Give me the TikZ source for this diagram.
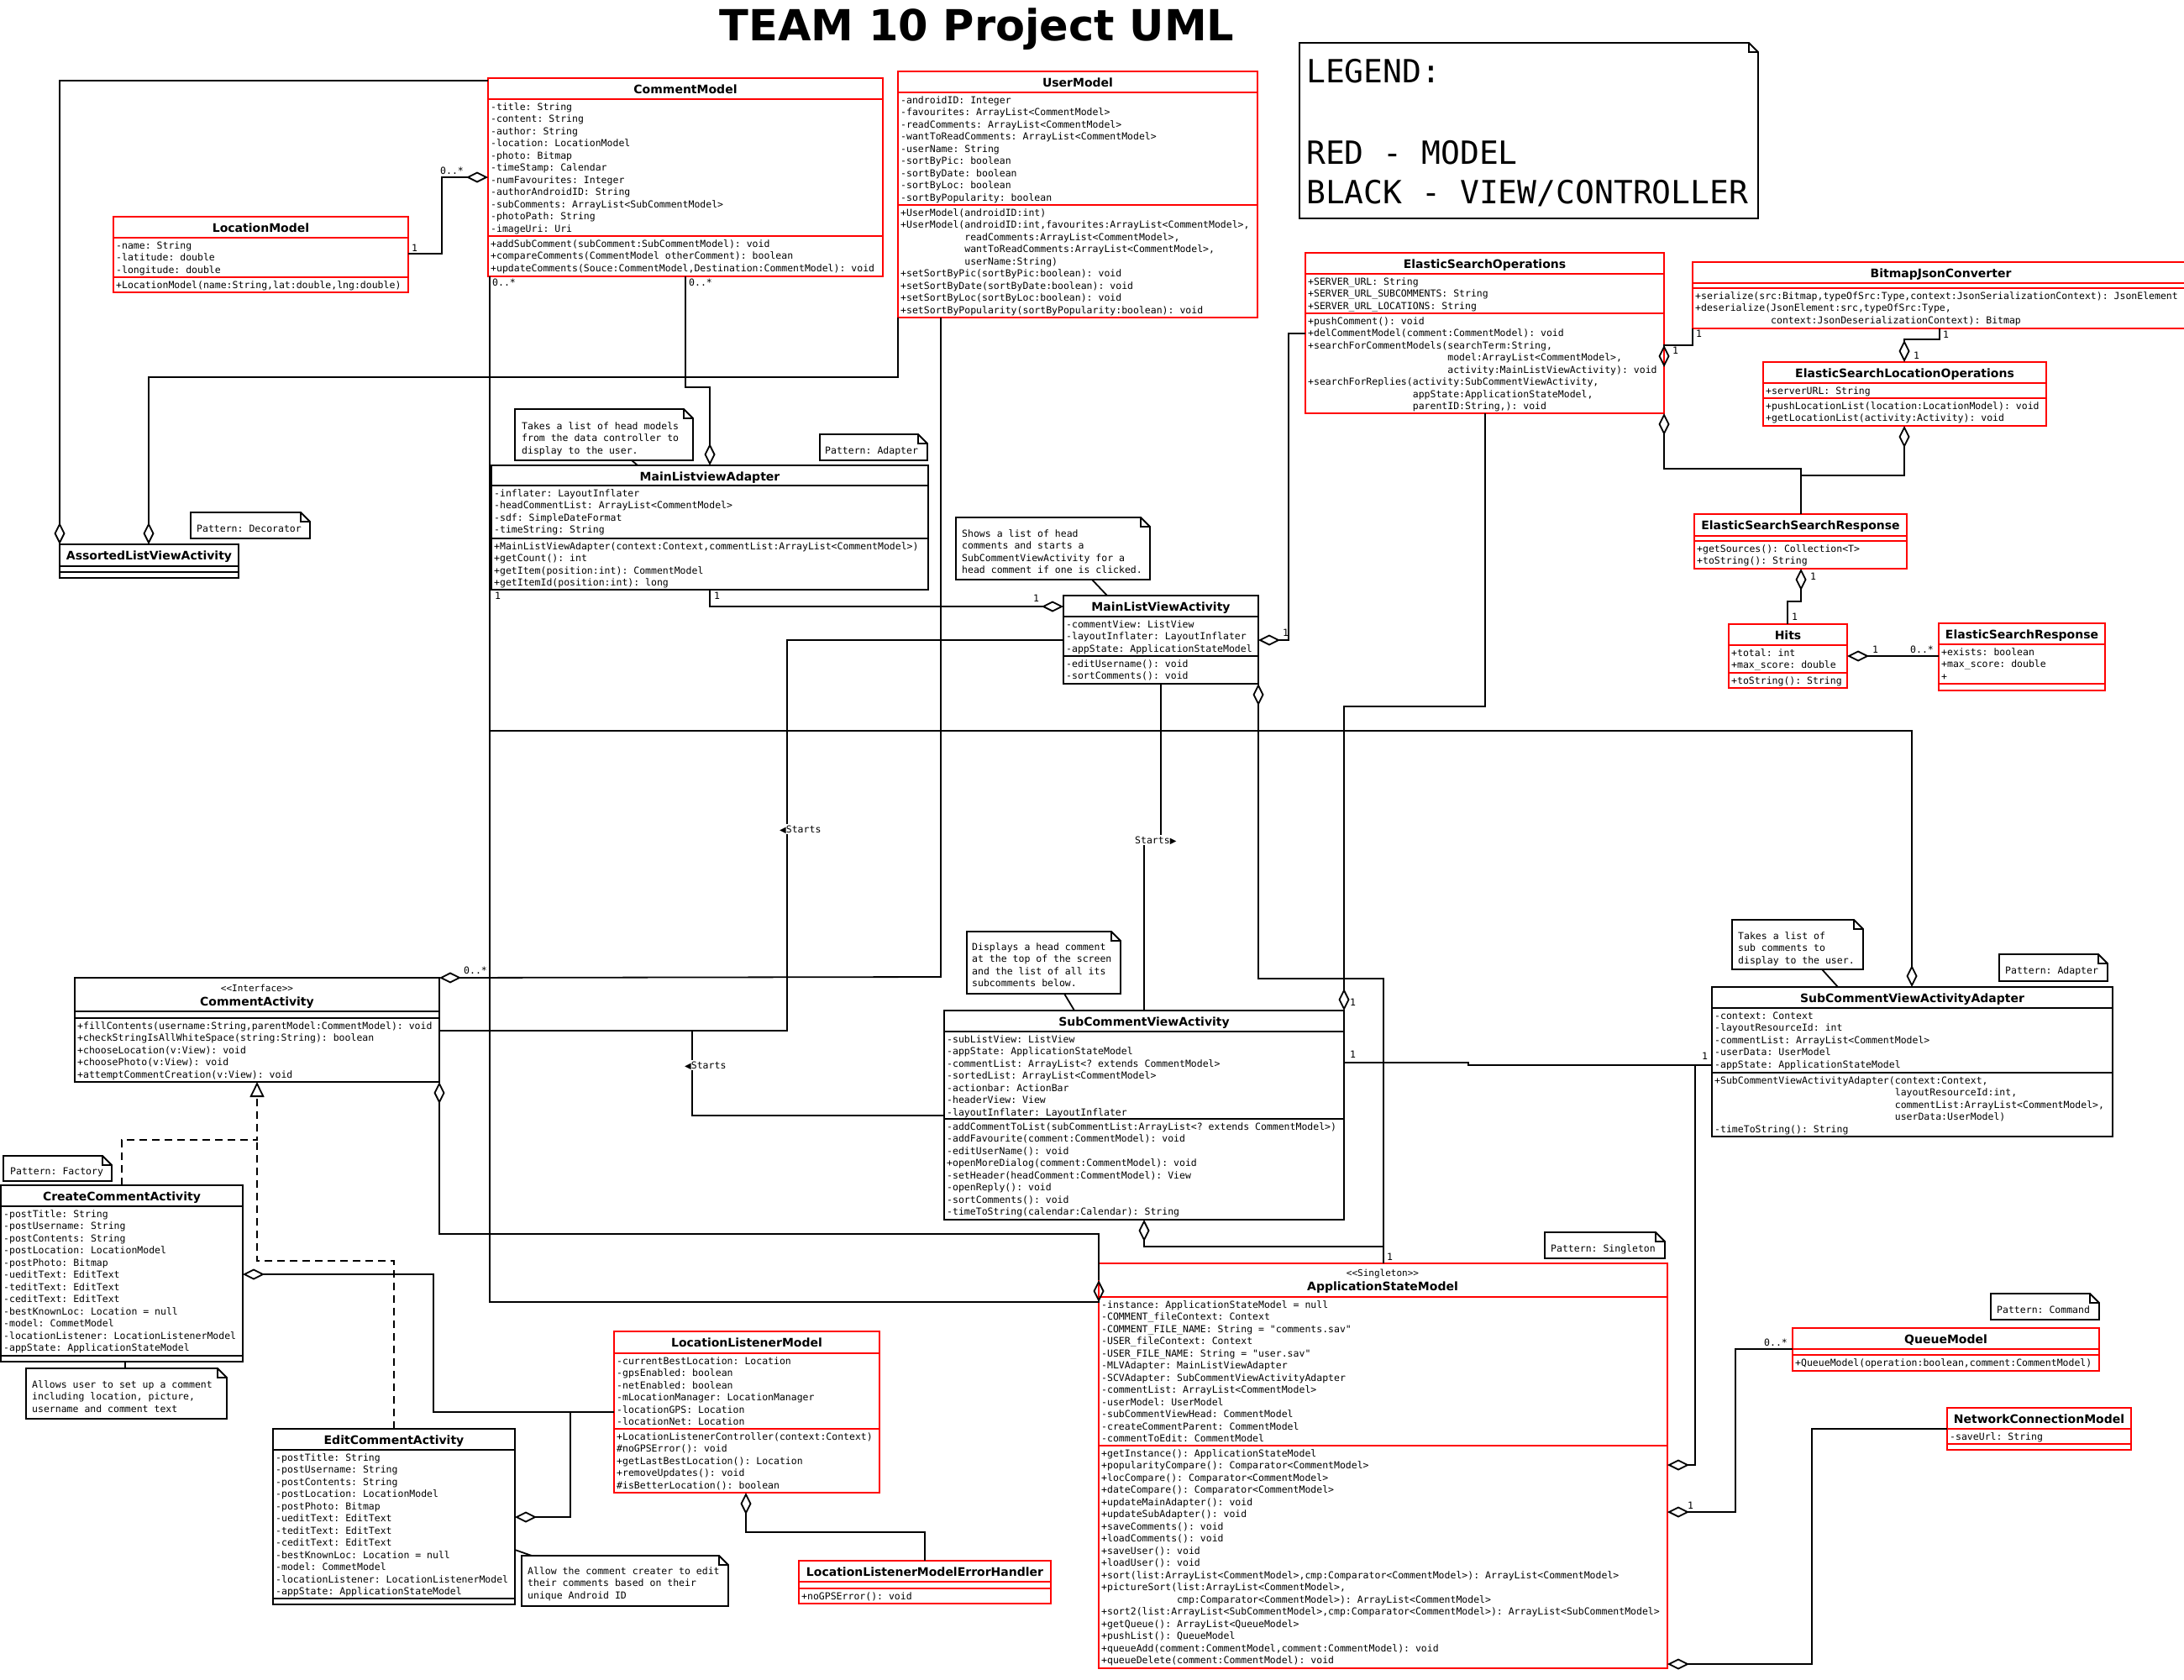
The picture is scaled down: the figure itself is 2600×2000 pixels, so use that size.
\documentclass[tikz,border=0pt]{standalone}
\usepackage{fontspec}
\setmainfont{DejaVu Sans}
\setmonofont{DejaVu Sans Mono}
\usetikzlibrary{arrows.meta}
\tikzset{
  box/.style={line width=1.8pt, inner sep=0pt, outer sep=0pt, anchor=north west},
  ttl/.style={font=\bfseries\fontsize{14}{16}\selectfont, anchor=base, inner sep=0pt},
  mem/.style={font=\ttfamily\fontsize{11.5}{14.5}\selectfont, anchor=base west, inner sep=0pt},
  stereo/.style={font=\ttfamily\fontsize{11}{13}\selectfont, anchor=base, inner sep=0pt},
  lbl/.style={font=\ttfamily\fontsize{11.5}{13}\selectfont, anchor=base west, inner sep=0pt},
  slbl/.style={font=\ttfamily\fontsize{11.5}{13}\selectfont, anchor=base west, inner sep=1pt, fill=white},
  conn/.style={line width=1.8pt},
  agg/.style={conn, -{Diamond[open, length=26pt, width=13pt]}},
  gga/.style={conn, {Diamond[open, length=26pt, width=13pt]}-},
  realz/.style={conn, dash pattern=on 9pt off 6pt, -{Triangle[open, length=18pt, width=17pt]}},
  dashz/.style={conn, dash pattern=on 9pt off 6pt},
  notebox/.style={inner sep=0pt, outer sep=0pt, anchor=north west},
}
% class box: name, colour, left, top, right, title bottom, attr bottom, bottom, title
\newcommand\umlclass[9]{%
  \node[box, draw=#2, fill=white, minimum width=\dimexpr #5pt-#3pt\relax, minimum height=\dimexpr #8pt-#4pt\relax] (#1) at (#3,#4) {};
  \draw[#2, line width=1.8pt] (#3,#6) -- (#5,#6) (#3,#7) -- (#5,#7);
  \node[ttl] at ({(#3+#5)/2},{#4+18}) {#9};
}
% member lines: x, first baseline, list
\newcommand\mems[3]{\foreach \t [count=\i from 0] in {#3} {\node[mem] at (#1,{#2+\i*14.5}) {\t};}}
% note: name, left, top, right, bottom
\newcommand\umlnote[5]{%
  \node[notebox, fill=white, minimum width=\dimexpr #4pt-#2pt\relax, minimum height=\dimexpr #5pt-#3pt\relax] (#1) at (#2,#3) {};
  \draw[conn] (#1.north west) -- ([xshift=-11pt]#1.north east) -- ([yshift=-11pt]#1.north east) -- (#1.south east) -- (#1.south west) -- cycle;
  \draw[line width=1.3pt] ([xshift=-11pt]#1.north east) -- ([xshift=-11pt,yshift=-11pt]#1.north east) -- ([yshift=-11pt]#1.north east);
}
\newcommand\lt{{\rmfamily\fontsize{10}{12}\selectfont ◀}}
\newcommand\rt{{\rmfamily\fontsize{10}{12}\selectfont ▶}}
\begin{document}
\begin{tikzpicture}[x=1pt,y=-1pt]
\fill[white] (0,0) rectangle (2600,2000);
\useasboundingbox (0,0) rectangle (2600,2000);

\node[font=\bfseries\fontsize{51}{60}\selectfont, anchor=base, inner sep=0pt] (title) at (1163,48) {TEAM 10 Project UML};

% ---------------- classes ----------------
\umlclass{cm}{red}{581}{93}{1051}{118}{281}{329}{CommentModel}
\mems{584}{131}{{-title: String},{-content: String},{-author: String},{-location: LocationModel},{-photo: Bitmap},{-timeStamp: Calendar},{-numFavourites: Integer},{-authorAndroidID: String},{-subComments: ArrayList<SubCommentModel>},{-photoPath: String},{-imageUri: Uri}}
\mems{584}{294}{{+addSubComment(subComment:SubCommentModel): void},{+compareComments(CommentModel otherComment): boolean},{+updateComments(Souce:CommentModel,Destination:CommentModel): void}}

\umlclass{um}{red}{1069}{85}{1497}{110}{244}{378}{UserModel}
\mems{1072}{123}{{-androidID: Integer},{-favourites: ArrayList<CommentModel>},{-readComments: ArrayList<CommentModel>},{-wantToReadComments: ArrayList<CommentModel>},{-userName: String},{-sortByPic: boolean},{-sortByDate: boolean},{-sortByLoc: boolean},{-sortByPopularity: boolean}}
\mems{1072}{257}{{+UserModel(androidID:int)},{+UserModel(androidID:int,favourites:ArrayList<CommentModel>,},{\phantom{+UserModel(}readComments:ArrayList<CommentModel>,},{\phantom{+UserModel(}wantToReadComments:ArrayList<CommentModel>,},{\phantom{+UserModel(}userName:String)},{+setSortByPic(sortByPic:boolean): void},{+setSortByDate(sortByDate:boolean): void},{+setSortByLoc(sortByLoc:boolean): void},{+setSortByPopularity(sortByPopularity:boolean): void}}

\umlclass{lm}{red}{135}{258}{486}{283}{330}{348}{LocationModel}
\mems{138}{296}{{-name: String},{-latitude: double},{-longitude: double}}
\mems{138}{343}{{+LocationModel(name:String,lat:double,lng:double)}}

\umlclass{alva}{black}{71}{648}{284}{674}{681}{688}{AssortedListViewActivity}

\umlclass{eso}{red}{1554}{301}{1981}{326}{373}{492}{ElasticSearchOperations}
\mems{1557}{339}{{+SERVER\_URL: String},{+SERVER\_URL\_SUBCOMMENTS: String},{+SERVER\_URL\_LOCATIONS: String}}
\mems{1557}{386}{{+pushComment(): void},{+delCommentModel(comment:CommentModel): void},{+searchForCommentModels(searchTerm:String,},{\phantom{+searchForCommentModels(}model:ArrayList<CommentModel>,},{\phantom{+searchForCommentModels(}activity:MainListViewActivity): void},{+searchForReplies(activity:SubCommentViewActivity,},{\phantom{+searchForReplies(}appState:ApplicationStateModel,},{\phantom{+searchForReplies(}parentID:String,): void}}

\umlclass{bjc}{red}{2015}{312}{2606}{337}{343}{391}{BitmapJsonConverter}
\mems{2018}{356}{{+serialize(src:Bitmap,typeOfSrc:Type,context:JsonSerializationContext): JsonElement},{+deserialize(JsonElement:src,typeOfSrc:Type,},{\phantom{+deserialize(}context:JsonDeserializationContext): Bitmap}}

\umlclass{eslo}{red}{2099}{431}{2436}{456}{474}{507}{ElasticSearchLocationOperations}
\mems{2102}{469}{{+serverURL: String}}
\mems{2102}{487}{{+pushLocationList(location:LocationModel): void},{+getLocationList(activity:Activity): void}}

\umlclass{essr}{red}{2017}{612}{2270}{638}{644}{677}{ElasticSearchSearchResponse}
\mems{2020}{657}{{+getSources(): Collection<T>},{+toString(): String}}

\umlclass{hits}{red}{2058}{743}{2199}{768}{801}{819}{Hits}
\mems{2061}{781}{{+total: int},{+max\_score: double}}
\mems{2061}{814}{{+toString(): String}}

\umlclass{esr}{red}{2308}{742}{2506}{767}{814}{822}{ElasticSearchResponse}
\mems{2311}{780}{{+exists: boolean},{+max\_score: double},{+}}

\umlclass{mla}{black}{585}{554}{1105}{578}{641}{702}{MainListviewAdapter}
\mems{588}{591}{{-inflater: LayoutInflater},{-headCommentList: ArrayList<CommentModel>},{-sdf: SimpleDateFormat},{-timeString: String}}
\mems{588}{654}{{+MainListViewAdapter(context:Context,commentList:ArrayList<CommentModel>)},{+getCount(): int},{+getItem(position:int): CommentModel},{+getItemId(position:int): long}}

\umlclass{mlva}{black}{1266}{709}{1498}{734}{781}{814}{MainListViewActivity}
\mems{1269}{747}{{-commentView: ListView},{-layoutInflater: LayoutInflater},{-appState: ApplicationStateModel}}
\mems{1269}{794}{{-editUsername(): void},{-sortComments(): void}}

\umlclass{scva}{black}{1124}{1203}{1600}{1228}{1332}{1452}{SubCommentViewActivity}
\mems{1127}{1241}{{-subListView: ListView},{-appState: ApplicationStateModel},{-commentList: ArrayList<? extends CommentModel>},{-sortedList: ArrayList<CommentModel>},{-actionbar: ActionBar},{-headerView: View},{-layoutInflater: LayoutInflater}}
\mems{1127}{1345}{{-addCommentToList(subCommentList:ArrayList<? extends CommentModel>)},{-addFavourite(comment:CommentModel): void},{-editUserName(): void},{+openMoreDialog(comment:CommentModel): void},{-setHeader(headComment:CommentModel): View},{-openReply(): void},{-sortComments(): void},{-timeToString(calendar:Calendar): String}}

\umlclass{scvaa}{black}{2038}{1175}{2515}{1200}{1277}{1353}{SubCommentViewActivityAdapter}
\mems{2041}{1213}{{-context: Context},{-layoutResourceId: int},{-commentList: ArrayList<CommentModel>},{-userData: UserModel},{-appState: ApplicationStateModel}}
\mems{2041}{1290}{{+SubCommentViewActivityAdapter(context:Context,},{\phantom{+SubCommentViewActivityAdapter(}layoutResourceId:int,},{\phantom{+SubCommentViewActivityAdapter(}commentList:ArrayList<CommentModel>,},{\phantom{+SubCommentViewActivityAdapter(}userData:UserModel)},{-timeToString(): String}}

\umlclass{ca}{black}{89}{1164}{523}{1204}{1212}{1288}{}
\node[stereo] at (306,1180) {<<Interface>>};
\node[ttl] at (306,1197) {CommentActivity};
\mems{92}{1225}{{+fillContents(username:String,parentModel:CommentModel): void},{+checkStringIsAllWhiteSpace(string:String): boolean},{+chooseLocation(v:View): void},{+choosePhoto(v:View): void},{+attemptCommentCreation(v:View): void}}

\umlclass{cca}{black}{1}{1411}{289}{1436}{1614}{1621}{CreateCommentActivity}
\mems{4}{1449}{{-postTitle: String},{-postUsername: String},{-postContents: String},{-postLocation: LocationModel},{-postPhoto: Bitmap},{-ueditText: EditText},{-teditText: EditText},{-ceditText: EditText},{-bestKnownLoc: Location = null},{-model: CommetModel},{-locationListener: LocationListenerModel},{-appState: ApplicationStateModel}}

\umlclass{eca}{black}{325}{1701}{613}{1726}{1903}{1910}{EditCommentActivity}
\mems{328}{1739}{{-postTitle: String},{-postUsername: String},{-postContents: String},{-postLocation: LocationModel},{-postPhoto: Bitmap},{-ueditText: EditText},{-teditText: EditText},{-ceditText: EditText},{-bestKnownLoc: Location = null},{-model: CommetModel},{-locationListener: LocationListenerModel},{-appState: ApplicationStateModel}}

\umlclass{llm}{red}{731}{1585}{1047}{1611}{1701}{1777}{LocationListenerModel}
\mems{734}{1624}{{-currentBestLocation: Location},{-gpsEnabled: boolean},{-netEnabled: boolean},{-mLocationManager: LocationManager},{-locationGPS: Location},{-locationNet: Location}}
\mems{734}{1714}{{+LocationListenerController(context:Context)},{\#noGPSError(): void},{+getLastBestLocation(): Location},{+removeUpdates(): void},{\#isBetterLocation(): boolean}}

\umlclass{llmeh}{red}{951}{1858}{1251}{1883}{1891}{1909}{LocationListenerModelErrorHandler}
\mems{954}{1904}{{+noGPSError(): void}}

\umlclass{asm}{red}{1308}{1504}{1985}{1544}{1721}{1986}{}
\node[stereo] at (1646,1519) {<<Singleton>>};
\node[ttl] at (1646,1536) {ApplicationStateModel};
\mems{1311}{1557}{{-instance: ApplicationStateModel = null},{-COMMENT\_fileContext: Context},{-COMMENT\_FILE\_NAME: String = "comments.sav"},{-USER\_fileContext: Context},{-USER\_FILE\_NAME: String = "user.sav"},{-MLVAdapter: MainListViewAdapter},{-SCVAdapter: SubCommentViewActivityAdapter},{-commentList: ArrayList<CommentModel>},{-userModel: UserModel},{-subCommentViewHead: CommentModel},{-createCommentParent: CommentModel},{-commentToEdit: CommentModel}}
\mems{1311}{1734}{{+getInstance(): ApplicationStateModel},{+popularityCompare(): Comparator<CommentModel>},{+locCompare(): Comparator<CommentModel>},{+dateCompare(): Comparator<CommentModel>},{+updateMainAdapter(): void},{+updateSubAdapter(): void},{+saveComments(): void},{+loadComments(): void},{+saveUser(): void},{+loadUser(): void},{+sort(list:ArrayList<CommentModel>,cmp:Comparator<CommentModel>): ArrayList<CommentModel>},{+pictureSort(list:ArrayList<CommentModel>,},{\phantom{+pictureSort(}cmp:Comparator<CommentModel>): ArrayList<CommentModel>},{+sort2(list:ArrayList<SubCommentModel>,cmp:Comparator<CommentModel>): ArrayList<SubCommentModel>},{+getQueue(): ArrayList<QueueModel>},{+pushList(): QueueModel},{+queueAdd(comment:CommentModel,comment:CommentModel): void},{+queueDelete(comment:CommentModel): void}}

\umlclass{qm}{red}{2134}{1581}{2499}{1606}{1613}{1632}{QueueModel}
\mems{2137}{1626}{{+QueueModel(operation:boolean,comment:CommentModel)}}

\umlclass{ncm}{red}{2318}{1676}{2537}{1701}{1719}{1726}{NetworkConnectionModel}
\mems{2321}{1714}{{-saveUrl: String}}

% ---------------- notes ----------------
\umlnote{legend}{1547}{51}{2093}{260}
\node[font=\ttfamily\fontsize{38}{46}\selectfont, anchor=base west, inner sep=0pt] at (1555,98) {LEGEND:};
\node[font=\ttfamily\fontsize{38}{46}\selectfont, anchor=base west, inner sep=0pt] at (1555,195) {RED - MODEL};
\node[font=\ttfamily\fontsize{38}{46}\selectfont, anchor=base west, inner sep=0pt] at (1555,242) {BLACK - VIEW/CONTROLLER};

\umlnote{nDec}{227}{610}{369}{641}
\mems{234}{633}{{Pattern: Decorator}}
\umlnote{nMLA}{613}{487}{825}{548}
\mems{621}{511}{{Takes a list of head models},{from the data controller to},{display to the user.}}
\umlnote{nAd1}{976}{517}{1104}{548}
\mems{982}{540}{{Pattern: Adapter}}
\umlnote{nMLVA}{1138}{616}{1369}{690}
\mems{1145}{639}{{Shows a list of head},{comments and starts a},{SubCommentViewActivity for a},{head comment if one is clicked.}}
\umlnote{nSCVA}{1151}{1109}{1334}{1183}
\mems{1157}{1131}{{Displays a head comment},{at the top of the screen},{and the list of all its},{subcomments below.}}
\umlnote{nSCVAA}{2062}{1095}{2218}{1154}
\mems{2069}{1118}{{Takes a list of},{sub comments to},{display to the user.}}
\umlnote{nAd2}{2380}{1136}{2509}{1168}
\mems{2387}{1159}{{Pattern: Adapter}}
\umlnote{nCmd}{2370}{1540}{2499}{1571}
\mems{2377}{1563}{{Pattern: Command}}
\umlnote{nSgl}{1839}{1467}{1982}{1498}
\mems{1846}{1490}{{Pattern: Singleton}}
\umlnote{nFac}{4}{1376}{133}{1406}
\mems{12}{1398}{{Pattern: Factory}}
\umlnote{nCCA}{31}{1629}{270}{1689}
\mems{38}{1652}{{Allows user to set up a comment},{including location, picture,},{username and comment text}}
\umlnote{nECA}{621}{1852}{867}{1912}
\mems{628}{1874}{{Allow the comment creater to edit},{their comments based on their},{unique Android ID}}

% ---------------- note links ----------------
\draw[conn] (nMLA.south -| 752,0) -- (mla.north -| 759,0);
\draw[conn] (nMLVA.south -| 1300,0) -- (mlva.north -| 1318,0);
\draw[conn] (nSCVA.south -| 1267,0) -- (scva.north -| 1279,0);
\draw[conn] (nSCVAA.south -| 2169,0) -- (scvaa.north -| 2188,0);
\draw[conn] (cca.south -| 149,0) -- (nCCA.north -| 149,0);
\draw[conn] (eca.east |- 0,1845) -- (nECA.north -| 633,0);

% ---------------- connectors ----------------
\draw[agg] (cm.west |- 0,96) -- (71,96) -- (alva.north west);
\draw[agg] (um.south west) -- (1069,449) -- (177,449) -- (alva.north -| 177,0);
\draw[agg] (lm.east |- 0,302) -- (526,302) -- (526,211) -- (cm.west |- 0,211);
\draw[agg] (cm.south -| 816,0) -- (816,461) -- (845,461) -- (mla.north -| 845,0);
\draw[agg] (cm.south -| 583,0) -- (583,870) -- (2276,870) -- (scvaa.north -| 2276,0);
\draw[agg] (cm.south -| 583,0) -- (583,1550) -- (asm.west |- 0,1550) -- (asm.west |- 0,1524);
\draw[gga] (ca.south east) -- (523,1469) -- (1308,1469) -- (asm.west |- 0,1524);
\draw[agg] (um.south -| 1120,0) -- (1120,1163) -- (ca.north east);
\draw[conn] (ca.east |- 0,1227) -- (937,1227) -- (937,762) -- (mlva.west |- 0,762);
\draw[conn] (ca.east |- 0,1227) -- (824,1227) -- (824,1328) -- (scva.west |- 0,1328);
\draw[agg] (mla.south -| 845,0) -- (845,722) -- (mlva.west |- 0,722);
\draw[conn] (mlva.south -| 1382,0) -- (1382,1000) -- (1362,1000) -- (scva.north -| 1362,0);
\draw[agg] (eso.west |- 0,397) -- (1534,397) -- (1534,762) -- (mlva.east |- 0,762);
\draw[gga] (mlva.south east) -- (1498,1165) -- (1647,1165) -- (asm.north -| 1647,0);
\draw[gga] (scva.south -| 1362,0) -- (1362,1484) -- (1647,1484) -- (asm.north -| 1647,0);
\draw[agg] (eso.south -| 1768,0) -- (1768,841) -- (1600,841) -- (scva.north east);
\draw[conn] (scva.east |- 0,1265) -- (1748,1265) -- (1748,1268) -- (scvaa.west |- 0,1268);
\draw[agg] (scvaa.west |- 0,1268) -- (2018,1268) -- (2018,1744) -- (asm.east |- 0,1744);
\draw[agg] (qm.west |- 0,1606) -- (2066,1606) -- (2066,1800) -- (asm.east |- 0,1800);
\draw[agg] (ncm.west |- 0,1701) -- (2157,1701) -- (2157,1981) -- (asm.east |- 0,1981);
\draw[gga] (eso.east |- 0,437) -- (1981,411) -- (2015,411) -- (bjc.south west);
\draw[agg] (bjc.south -| 2309,0) -- (2309,404) -- (2267,404) -- (eslo.north -| 2267,0);
\draw[gga] (eso.south east) -- (1981,558) -- (2144,558) -- (essr.north -| 2144,0);
\draw[gga] (eslo.south -| 2267,0) -- (2267,566) -- (2144,566) -- (essr.north -| 2144,0);
\draw[gga] (essr.south -| 2144,0) -- (2144,716) -- (2128,716) -- (hits.north -| 2128,0);
\draw[gga] (hits.east |- 0,781) -- (esr.west |- 0,781);
\draw[realz] (cca.north -| 145,0) -- (145,1357) -- (306,1357) -- (ca.south -| 306,0);
\draw[dashz] (eca.north -| 469,0) -- (469,1501) -- (306,1501) -- (306,1357);
\draw[gga] (cca.east |- 0,1517) -- (516,1517) -- (516,1681) -- (llm.west |- 0,1681);
\draw[gga] (eca.east |- 0,1806) -- (679,1806) -- (679,1681);
\draw[gga] (llm.south -| 888,0) -- (888,1824) -- (1101,1824) -- (llmeh.north -| 1101,0);

% ---------------- labels ----------------
\node[lbl] at (490,299) {1};
\node[lbl] at (524,207) {0..*};
\node[lbl] at (586,340) {0..*};
\node[lbl] at (820,340) {0..*};
\node[lbl] at (589,713) {1};
\node[lbl] at (850,713) {1};
\node[lbl] at (1230,716) {1};
\node[lbl] at (1527,757) {1};
\node[lbl] at (2019,401) {1};
\node[lbl] at (1991,421) {1};
\node[lbl] at (2313,402) {1};
\node[lbl] at (2278,427) {1};
\node[lbl] at (2155,690) {1};
\node[lbl] at (2133,738) {1};
\node[lbl] at (2229,777) {1};
\node[lbl] at (2274,777) {0..*};
\node[lbl] at (552,1159) {0..*};
\node[lbl] at (1607,1197) {1};
\node[lbl] at (1607,1259) {1};
\node[lbl] at (2026,1261) {1};
\node[lbl] at (1651,1500) {1};
\node[lbl] at (2100,1602) {0..*};
\node[lbl] at (2009,1796) {1};
\node[slbl] at (927,991) {\lt Starts};
\node[slbl] at (814,1272) {\lt Starts};
\node[slbl] at (1350,1004) {Starts\rt};
\end{tikzpicture}
\end{document}
